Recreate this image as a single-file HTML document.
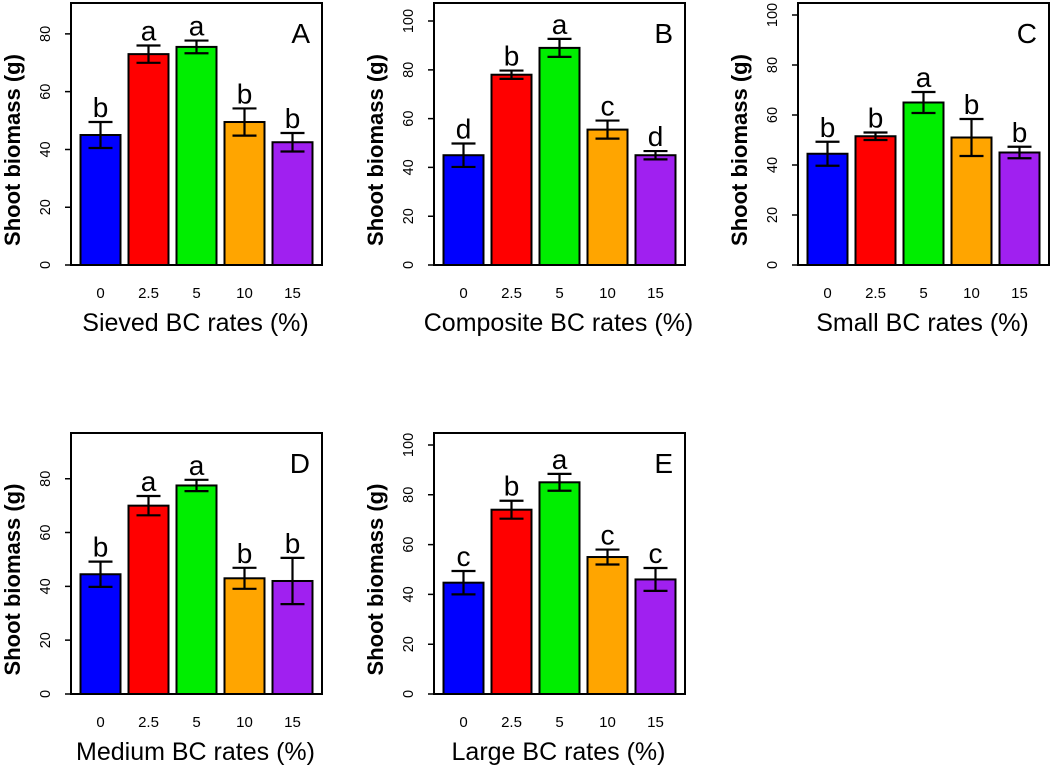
<!DOCTYPE html>
<html><head><meta charset="utf-8">
<style>
html,body{margin:0;padding:0;background:#fff;}
svg{display:block;font-family:"Liberation Sans",Arial,sans-serif;}
</style></head>
<body>
<svg id="chart" width="1052" height="769"></svg>
<script>
const categories = ["0","2.5","5","10","15"];
const colors = ["#0000ff","#ff0000","#00ee00","#ffa500","#a020f0"];
const meansA = [45,73,75.5,49.5,42.5];
const errsA = [4.5,3,2.2,4.7,3.2];
const lettersA = ["b","a","a","b","b"];
const meansB = [45,78,89,55.5,45];
const errsB = [4.8,1.7,3.7,3.7,1.7];
const lettersB = ["d","b","a","c","d"];
const meansC = [44.5,51.5,65,51,45];
const errsC = [4.8,1.5,4.2,7.4,2.3];
const lettersC = ["b","b","a","b","b"];
const meansD = [44.5,70,77.5,43,42];
const errsD = [4.7,3.6,2.1,3.9,8.6];
const lettersD = ["b","a","a","b","b"];
const meansE = [44.7,74,85,55,46];
const errsE = [4.7,3.6,3.4,3,4.6];
const lettersE = ["c","b","a","c","c"];
const ticksA = [0,20,40,60,80];
const ticksB = [0,20,40,60,80,100];

const NS="http://www.w3.org/2000/svg";
const svg=document.getElementById('chart');
function mk(tag,attrs,parent){const e=document.createElementNS(NS,tag);for(const k in attrs)e.setAttribute(k,attrs[k]);(parent||svg).appendChild(e);return e;}

function panel(id,L,T,B,ymax,ticks,means,errs,letters,xtitle){
  const R=L+251;
  const g=mk('g',{});
  
  
  const y=v=>B-(v/ymax)*(B-T);
  const xl=i=>L+9.5+i*48;
  for(let i=0;i<means.length;i++){
    const r=mk('rect',{x:xl(i),y:y(means[i]),width:40,height:B-y(means[i]),fill:colors[i],stroke:'#000','stroke-width':2},g);
    
    
    const cx=xl(i)+20, hi=y(means[i]+errs[i]), lo=y(means[i]-errs[i]);
    const eb=mk('path',{d:`M${cx},${hi}V${lo}M${cx-12},${hi}H${cx+12}M${cx-12},${lo}H${cx+12}`,stroke:'#000','stroke-width':2.2,fill:'none'},g);
    
    
    const lt=mk('text',{x:cx,y:hi-5,'text-anchor':'middle','font-size':28},g);
    lt.textContent=letters[i];
    
    
    const xt=mk('text',{x:cx,y:B+33,'text-anchor':'middle','font-size':15},g);
    xt.textContent=categories[i];
    
    
  }
  const box=mk('rect',{x:L,y:T,width:R-L,height:B-T,fill:'none',stroke:'#000','stroke-width':2},g);
  
  
  const ax=mk('path',{d:`M${L},${y(ticks[0])}V${y(ticks[ticks.length-1])}`+ticks.map(t=>`M${L},${y(t)}H${L-6}`).join(''),stroke:'#000','stroke-width':1.5,fill:'none'},g);
  
  
  ticks.forEach(t=>{
    const tx=L-21, ty=y(t);
    const e=mk('text',{x:tx,y:ty,'text-anchor':'middle','font-size':14.5,transform:`rotate(-90 ${tx} ${ty})`},g);
    e.textContent=t;
    
    
  });
  const ycy=(T+B)/2+16;
  const yt=mk('text',{x:L-51,y:ycy,'text-anchor':'middle','font-size':22,'font-weight':'bold',transform:`rotate(-90 ${L-51} ${ycy})`},g);
  yt.textContent='Shoot biomass (g)';
  
  
  const xtt=mk('text',{x:(L+R)/2-1,y:B+66,'text-anchor':'middle','font-size':25},g);
  xtt.textContent=xtitle;
  
  
  const pl=mk('text',{x:R-12,y:T+40,'text-anchor':'end','font-size':28},g);
  pl.textContent=id;
  
  
}
panel('A',71,3,265,90.7,ticksA,meansA,errsA,lettersA,'Sieved BC rates (%)');
panel('B',434,3,265,107.4,ticksB,meansB,errsB,lettersB,'Composite BC rates (%)');
panel('C',798,3,265,104.8,ticksB,meansC,errsC,lettersC,'Small BC rates (%)');
panel('D',71,433,694,97,ticksA,meansD,errsD,lettersD,'Medium BC rates (%)');
panel('E',434,433,694,104.8,ticksB,meansE,errsE,lettersE,'Large BC rates (%)');
</script>
</body></html>
